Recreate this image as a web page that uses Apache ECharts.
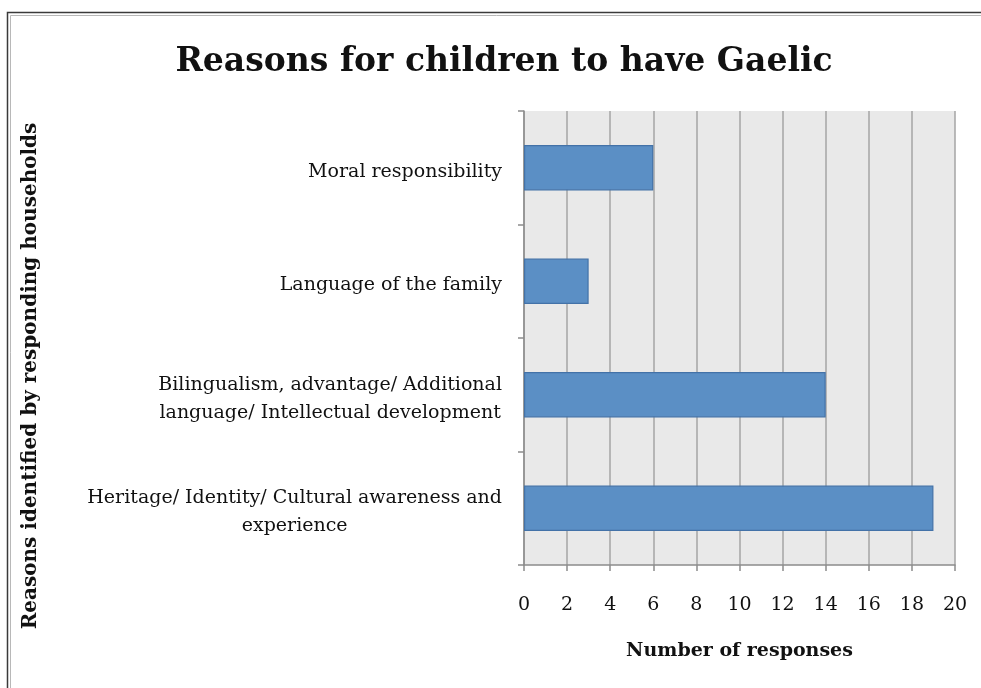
<!DOCTYPE html>
<html>
<head>
<meta charset="utf-8">
<script src="https://cdn.jsdelivr.net/npm/echarts@6/dist/echarts.min.js"></script>
<style>
  html, body { margin: 0; padding: 0; background: #ffffff; }
  #chart { width: 981px; height: 688px; }
</style>
</head>
<body>
<div id="chart"></div>
<script>
// Categories listed bottom-to-top (category axis starts at the bottom)
const categories = [
  'Heritage/ Identity/ Cultural awareness and\nexperience',
  'Bilingualism, advantage/ Additional\nlanguage/ Intellectual development',
  'Language of the family',
  'Moral responsibility'
];
const responses = [19, 14, 3, 6];
const xTicks = { min: 0, max: 20, interval: 2 };

const serif = '"DejaVu Serif", "Liberation Serif", serif';

const chart = echarts.init(document.getElementById('chart'), null, { renderer: 'canvas' });

chart.setOption({
  backgroundColor: '#ffffff',
  animation: false,
  title: {
    text: 'Reasons for children to have Gaelic',
    left: 499,
    textAlign: 'center',
    top: 41,
    textStyle: { fontFamily: serif, fontWeight: 'bold', fontSize: 33, color: '#111111' }
  },
  graphic: [
    {
      type: 'rect',
      left: 5, top: 10,
      shape: { width: 990, height: 700 },
      style: { fill: 'none', stroke: '#3a3a3a', lineWidth: 1.5 },
      silent: true
    },
    {
      type: 'rect',
      left: 8, top: 13,
      shape: { width: 990, height: 700 },
      style: { fill: 'none', stroke: '#b8b8b8', lineWidth: 1 },
      silent: true
    },
    {
      type: 'text',
      x: 31, y: 376,
      rotation: Math.PI / 2,
      style: {
        text: 'Reasons identified by responding households',
        fontFamily: serif, fontWeight: 'bold', fontSize: 20, fill: '#111111',
        align: 'center', verticalAlign: 'middle'
      }
    }
  ],
  grid: { left: 524, right: 26, top: 111, bottom: 123, show: true, backgroundColor: '#e9e9e9', borderWidth: 0 },
  xAxis: {
    type: 'value',
    min: xTicks.min, max: xTicks.max, interval: xTicks.interval,
    name: 'Number of responses',
    nameLocation: 'middle',
    nameGap: 77,
    nameTextStyle: { fontFamily: serif, fontWeight: 'bold', fontSize: 19, color: '#111111' },
    axisLine: { show: true, lineStyle: { color: '#8c8c8c', width: 1.5 } },
    axisTick: { show: true, length: 6, lineStyle: { color: '#8c8c8c', width: 1.5 } },
    axisLabel: { margin: 31, fontFamily: serif, fontSize: 19, color: '#111111' },
    splitLine: { show: true, lineStyle: { color: '#a4a4a4', width: 1.5 } }
  },
  yAxis: {
    type: 'category',
    data: categories,
    axisLine: { show: true, lineStyle: { color: '#8c8c8c', width: 1.5 } },
    axisTick: { show: true, length: 6, lineStyle: { color: '#8c8c8c', width: 1.5 } },
    splitLine: { show: false },
    axisLabel: {
      margin: 22,
      align: 'right',
      padding: [8, 0, 0, 0],
      fontFamily: serif, fontSize: 19, color: '#111111', lineHeight: 28,
      formatter: function (v) {
        return v.split('\n').map(function (l) { return '{c|' + l + '}'; }).join('\n');
      },
      rich: { c: { align: 'center', fontFamily: serif, fontSize: 19, color: '#111111', lineHeight: 28 } }
    }
  },
  series: [{
    type: 'bar',
    data: responses,
    barCategoryGap: '60%',
    itemStyle: { color: '#5b8fc5', borderColor: '#4372a8', borderWidth: 1.2 }
  }]
});
</script>
</body>
</html>
